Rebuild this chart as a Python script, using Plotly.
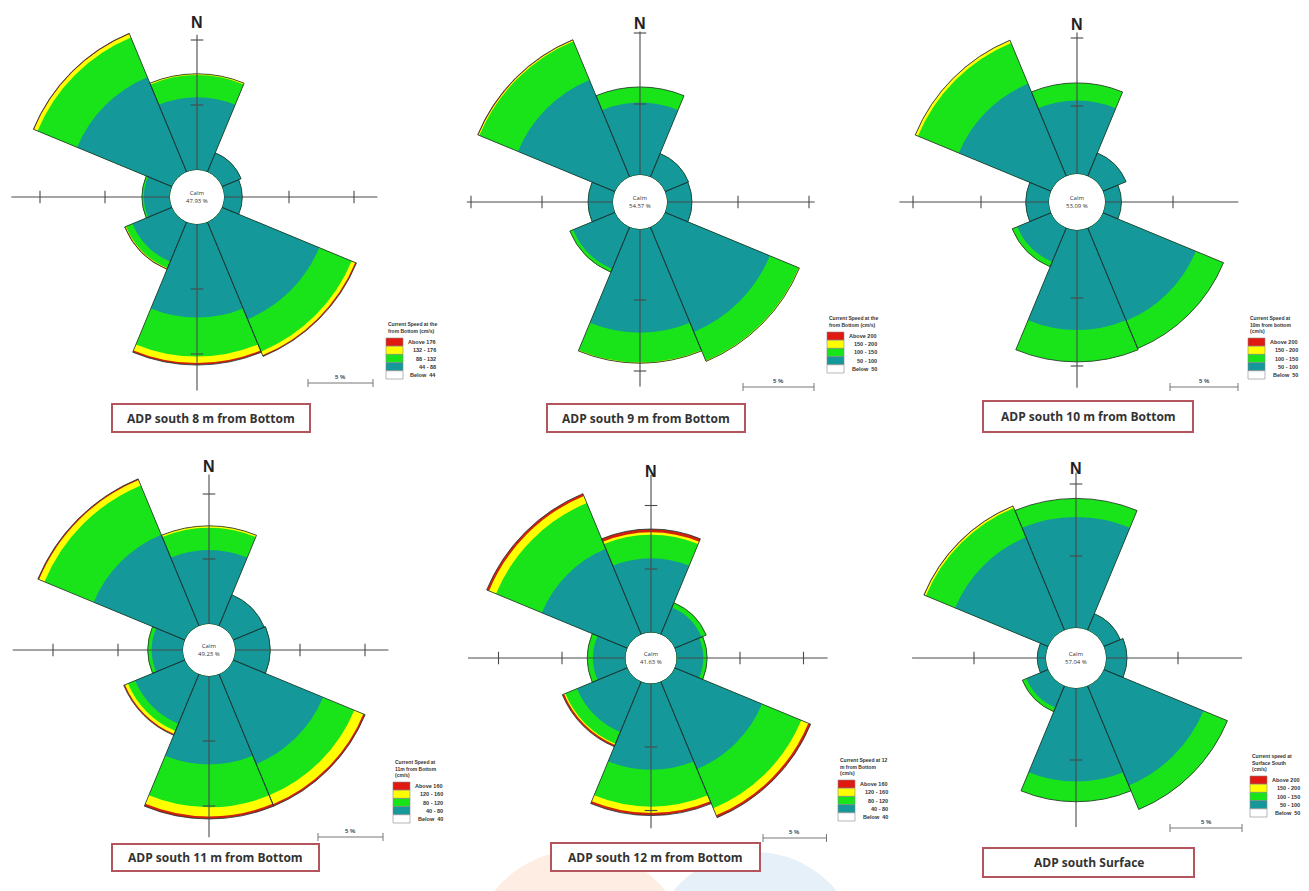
import numpy as np
import plotly.graph_objects as go

W, H = 1309, 891

DIRS = ["N", "NE", "E", "SE", "S", "SW", "W", "NW"]
THETA = [0, 45, 90, 135, 180, 225, 270, 315]

# Frequency of occurrence (%) per direction and speed class
# --- 8 m from bottom
S8_C1 = [5.6, 1.6, 1.4, 8.1, 7.2, 3.3, 2.0, 7.9]
S8_C2 = [1.7, 0.0, 0.0, 2.7, 3.0, 0.55, 0.15, 3.3]
S8_C3 = [0.1, 0.0, 0.0, 0.3, 0.5, 0.05, 0.0, 0.3]
S8_C4 = [0.0, 0.0, 0.0, 0.1, 0.15, 0.05, 0.0, 0.05]
# --- 9 m from bottom
S9_C1 = [5.1, 1.8, 1.75, 8.0, 7.3, 3.2, 1.75, 7.4]
S9_C2 = [1.1, 0.0, 0.0, 2.2, 2.1, 0.25, 0.0, 2.95]
S9_C3 = [0.0, 0.0, 0.0, 0.05, 0.05, 0.0, 0.0, 0.07]
S9_C4 = [0.0, 0.0, 0.0, 0.0, 0.0, 0.0, 0.0, 0.05]
# --- 10 m from bottom
S10_C1 = [5.4, 1.85, 1.2, 7.4, 7.35, 2.7, 1.7, 7.35]
S10_C2 = [1.3, 0.0, 0.0, 2.2, 2.35, 0.4, 0.0, 3.25]
S10_C3 = [0.0, 0.0, 0.0, 0.0, 0.0, 0.0, 0.0, 0.2]
S10_C4 = [0.0, 0.0, 0.0, 0.0, 0.0, 0.0, 0.0, 0.02]
# --- 11 m from bottom
S11_C1 = [5.7, 2.6, 2.7, 7.5, 6.8, 4.15, 2.4, 7.6]
S11_C2 = [1.7, 0.0, 0.0, 2.6, 3.3, 0.6, 0.3, 4.1]
S11_C3 = [0.15, 0.0, 0.0, 0.75, 0.7, 0.25, 0.0, 0.45]
S11_C4 = [0.0, 0.0, 0.0, 0.15, 0.2, 0.1, 0.0, 0.1]
# --- 12 m from bottom
S12_C1 = [5.85, 2.3, 2.1, 7.45, 6.8, 4.3, 2.55, 7.3]
S12_C2 = [1.85, 0.4, 0.3, 3.35, 2.9, 1.0, 0.45, 3.9]
S12_C3 = [0.2, 0.0, 0.0, 0.6, 0.5, 0.1, 0.0, 0.6]
S12_C4 = [0.25, 0.0, 0.0, 0.2, 0.2, 0.15, 0.0, 0.2]
# --- surface
SS_C1 = [7.7, 1.25, 1.45, 7.5, 6.5, 1.65, 0.6, 7.0]
SS_C2 = [1.3, 0.0, 0.0, 1.8, 1.4, 0.3, 0.0, 2.2]
SS_C3 = [0.0, 0.0, 0.0, 0.0, 0.0, 0.0, 0.0, 0.12]
SS_C4 = [0.0, 0.0, 0.0, 0.0, 0.0, 0.0, 0.0, 0.03]

CALM = ["47.93 %", "54.57 %", "53.09 %", "49.23 %", "41.63 %", "57.04 %"]

TITLES = [
    "ADP south 8 m from Bottom",
    "ADP south 9 m from Bottom",
    "ADP south 10 m from Bottom",
    "ADP south 11 m from Bottom",
    "ADP south 12 m from Bottom",
    "ADP south Surface",
]

LEGEND_TITLES = [
    "Current Speed at the<br>from Bottom (cm/s)",
    "Current Speed at the<br>from Bottom (cm/s)",
    "Current Speed at<br>10m from bottom<br>(cm/s)",
    "Current Speed at<br>11m from Bottom<br>(cm/s)",
    "Current Speed at 12<br>m from Bottom<br>(cm/s)",
    "Current speed at<br>Surface South<br>(cm/s)",
]

CLASS_LABELS = [
    ["Above 176", "132 - 176", "88 - 132", "44 - 88", "Below  44"],
    ["Above 200", "150 - 200", "100 - 150", "50 - 100", "Below  50"],
    ["Above 200", "150 - 200", "100 - 150", "50 - 100", "Below  50"],
    ["Above 160", "120 - 160", "80 - 120", "40 - 80", "Below  40"],
    ["Above 160", "120 - 160", "80 - 120", "40 - 80", "Below  40"],
    ["Above 200", "150 - 200", "100 - 150", "50 - 100", "Below  50"],
]

SERIES = [
    (S8_C1, S8_C2, S8_C3, S8_C4),
    (S9_C1, S9_C2, S9_C3, S9_C4),
    (S10_C1, S10_C2, S10_C3, S10_C4),
    (S11_C1, S11_C2, S11_C3, S11_C4),
    (S12_C1, S12_C2, S12_C3, S12_C4),
    (SS_C1, SS_C2, SS_C3, SS_C4),
]

# Crosshair reach (%) towards N, E, S, W
AXIS_REACH = [
    [10.4, 11.8, 12.8, 12.2],
    [10.1, 10.4, 11.1, 10.3],
    [10.4, 9.8, 11.6, 11.0],
    [11.5, 11.8, 12.4, 13.1],
    [12.4, 11.9, 11.4, 12.4],
    [10.8, 9.45, 9.65, 9.3],
]
AXIS_TICKS = [5, 10]

# Page geometry of each rose: centre (px), calm-circle radius (px), px per 5 %
GEOM = [
    dict(cx=197, cy=197, hole=27, px5=65),
    dict(cx=640, cy=202, hole=27, px5=71),
    dict(cx=1077, cy=202, hole=28, px5=68),
    dict(cx=209, cy=650, hole=26, px5=65),
    dict(cx=651, cy=658, hole=25.5, px5=63.5),
    dict(cx=1076, cy=658, hole=30, px5=72),
]
N_LABEL_Y = [23, 24, 25, 467, 471, 468]
LEGEND_BOX = [(386, 338), (827, 332), (1248, 338), (393, 782), (838, 780), (1250, 776)]
SCALE_BAR = [(308, 383), (743, 387), (1170, 387), (318, 837), (763, 838), (1170, 828)]
TITLE_BOX = [
    (112, 404, 310, 432),
    (547, 404, 745, 432),
    (983, 401, 1193, 432),
    (112, 844, 319, 871),
    (551, 843, 760, 871),
    (983, 848, 1194, 877),
]

COLORS = ["#15989a", "#19e419", "#ffff00", "#d2200f"]  # low -> high class
LEGEND_COLORS = ["#e01a10", "#ffff00", "#19e419", "#15989a", "#ffffff"]
OUTLINE = "rgba(25,55,55,0.9)"
AXIS_COLOR = "#4a4a4a"


def px(x, y):
    return x / W, 1 - y / H


def note(x, y, text, size, xanchor="center", yanchor="middle", **kw):
    return dict(x=x, y=y, xref="paper", yref="paper", showarrow=False,
                xanchor=xanchor, yanchor=yanchor, text=text,
                font=dict(size=size, color=kw.pop("color", "#333"),
                          family=kw.pop("family", "Liberation Sans")), **kw)


fig = go.Figure()
shapes = []
annotations = []

# faint page watermark behind the lower row
for (ex0, ey0, ex1, ey1, col) in [
    (470, 850, 690, 1070, "rgba(250,214,190,0.45)"),
    (650, 852, 860, 1062, "rgba(200,222,242,0.45)"),
]:
    a0, b1 = px(ex0, ey0)
    a1, b0 = px(ex1, ey1)
    shapes.append(dict(type="circle", xref="paper", yref="paper", layer="below",
                       x0=a0, x1=a1, y0=b0, y1=b1, fillcolor=col, line=dict(width=0)))

for i in range(6):
    g = GEOM[i]
    name = "polar" if i == 0 else f"polar{i + 1}"
    classes = [np.array(s, dtype=float) for s in SERIES[i]]
    cum = np.cumsum(np.vstack(classes), axis=0)
    rmax = max(max(AXIS_REACH[i]), cum[-1].max()) + 0.05
    rpx = g["hole"] + rmax / 5 * g["px5"]

    # stacked speed classes drawn from outermost inward
    for k in range(3, -1, -1):
        fig.add_trace(go.Barpolar(
            r=cum[k], theta=THETA, width=[45] * 8, subplot=name,
            marker=dict(color=COLORS[k], line=dict(width=0)),
            showlegend=False, hoverinfo="skip",
        ))
    # petal outlines
    fig.add_trace(go.Barpolar(
        r=cum[-1], theta=THETA, width=[45] * 8, subplot=name,
        marker=dict(color="rgba(0,0,0,0)", line=dict(color=OUTLINE, width=0.9)),
        showlegend=False, hoverinfo="skip",
    ))

    # crosshair axes with tick marks
    r_line, t_line = [], []
    for ang, reach in zip([0, 90, 180, 270], AXIS_REACH[i]):
        r_line += [0, reach, None]
        t_line += [ang, ang, None]
    fig.add_trace(go.Scatterpolar(
        r=r_line, theta=t_line, mode="lines", subplot=name,
        line=dict(color=AXIS_COLOR, width=1.1),
        showlegend=False, hoverinfo="skip",
    ))
    tr, tt, ts = [], [], []
    for ang, reach in zip([0, 90, 180, 270], AXIS_REACH[i]):
        for t in AXIS_TICKS:
            if t <= reach + 0.05:
                tr.append(t)
                tt.append(ang)
                ts.append("line-ew" if ang in (0, 180) else "line-ns")
    fig.add_trace(go.Scatterpolar(
        r=tr, theta=tt, mode="markers", subplot=name,
        marker=dict(symbol=ts, size=9, line=dict(color=AXIS_COLOR, width=1.1)),
        showlegend=False, hoverinfo="skip",
    ))

    x0, y1 = px(g["cx"] - rpx, g["cy"] - rpx)
    x1, y0 = px(g["cx"] + rpx, g["cy"] + rpx)
    fig.update_layout(**{name: dict(
        domain=dict(x=[max(0, x0), min(1, x1)], y=[max(0, y0), min(1, y1)]),
        hole=g["hole"] / rpx,
        bgcolor="rgba(0,0,0,0)",
        barmode="overlay",
        radialaxis=dict(visible=False, range=[0, rmax]),
        angularaxis=dict(visible=False, rotation=90, direction="clockwise"),
    )})

    # calm centre text
    cx, cy = px(g["cx"], g["cy"])
    annotations.append(note(cx, cy, f"Calm<br>{CALM[i]}", 6, family="Open Sans"))
    # north marker
    nx, ny = px(g["cx"], N_LABEL_Y[i])
    annotations.append(note(nx, ny, "<b>N</b>", 16, color="#222"))

    # legend boxes and labels
    bx, by = LEGEND_BOX[i]
    bh = 8.2
    for j, col in enumerate(LEGEND_COLORS):
        a0, b1 = px(bx, by + j * bh)
        a1, b0 = px(bx + 17, by + (j + 1) * bh)
        shapes.append(dict(type="rect", xref="paper", yref="paper",
                           x0=a0, x1=a1, y0=b0, y1=b1, fillcolor=col,
                           line=dict(color="#888", width=0.6)))
        lx, ly = px(bx + 52, by + (j + 0.5) * bh)
        annotations.append(note(lx, ly, f"<b>{CLASS_LABELS[i][j]}</b>", 5.5,
                                xanchor="right"))
    tx, ty = px(bx, by - 2)
    annotations.append(note(tx, ty, f"<b>{LEGEND_TITLES[i]}</b>", 5,
                            xanchor="left", yanchor="bottom", align="left"))

    # 5 % scale bar
    sx, sy = SCALE_BAR[i]
    a0, b = px(sx, sy)
    a1, _ = px(sx + g["px5"], sy)
    shapes.append(dict(type="line", xref="paper", yref="paper",
                       x0=a0, x1=a1, y0=b, y1=b, line=dict(color="#777", width=1)))
    for xe in (sx, sx + g["px5"]):
        e0, f0 = px(xe, sy - 4)
        _, f1 = px(xe, sy + 4)
        shapes.append(dict(type="line", xref="paper", yref="paper",
                           x0=e0, x1=e0, y0=f1, y1=f0, line=dict(color="#777", width=1)))
    mx, my = px(sx + g["px5"] / 2, sy - 1)
    annotations.append(note(mx, my, "<b>5 %</b>", 6, yanchor="bottom", color="#444"))

    # caption box
    qx0, qy0, qx1, qy1 = TITLE_BOX[i]
    a0, b1 = px(qx0, qy0)
    a1, b0 = px(qx1, qy1)
    shapes.append(dict(type="rect", xref="paper", yref="paper",
                       x0=a0, x1=a1, y0=b0, y1=b1, fillcolor="#ffffff",
                       line=dict(color="#b4545c", width=2)))
    annotations.append(note((a0 + a1) / 2, (b0 + b1) / 2, f"<b>{TITLES[i]}</b>", 12,
                            family="Open Sans"))

fig.update_layout(
    width=W, height=H, autosize=False,
    margin=dict(l=0, r=0, t=0, b=0),
    paper_bgcolor="#ffffff", plot_bgcolor="#ffffff",
    shapes=shapes, annotations=annotations,
    showlegend=False,
)

fig.write_html("out.html")
